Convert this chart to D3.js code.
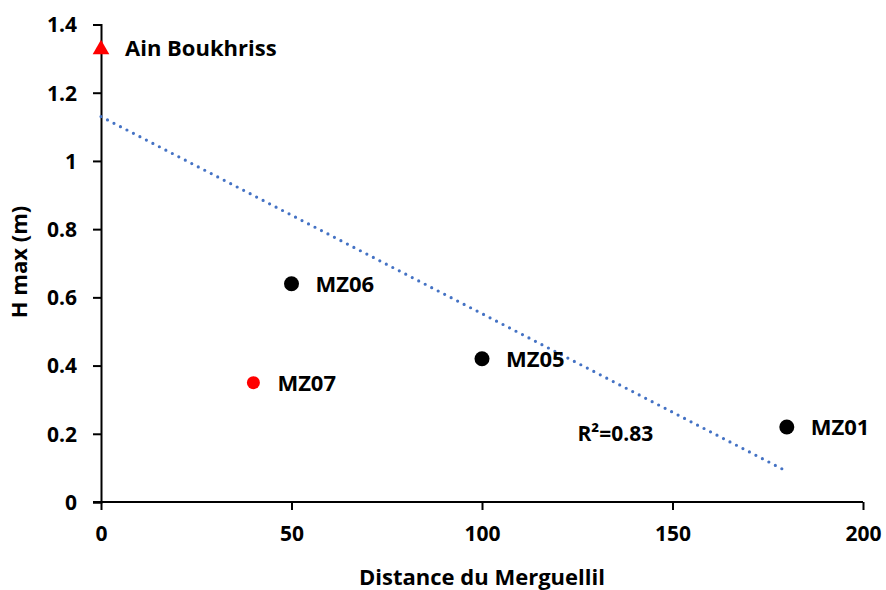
<!DOCTYPE html>
<html><head><meta charset="utf-8">
<script src="https://cdn.jsdelivr.net/npm/d3@7"></script>
<style>body{margin:0;background:#fff}svg text{font-family:"Open Sans",sans-serif;font-weight:bold;fill:#000}</style>
</head><body>
<svg id="c" width="886" height="590"></svg>
<script>
const names = ["Ain Boukhriss","MZ07","MZ06","MZ05","MZ01"];
const distances = [0,40,50,100,180];
const hmax = [1.33,0.35,0.64,0.42,0.22];
const colors = ["red","red","black","black","black"];
const shapes = ["triangle","small","circle","circle","circle"];
const xTicks = [0,50,100,150,200];
const yTicks = [0,0.2,0.4,0.6,0.8,1,1.2,1.4];
const trendX = [0,180];
const trendY = [1.13,0.09];
const r2Label = "R²=0.83";
const r2Pos = [135,0.2];

const svg = d3.select("#c");
const x = d3.scaleLinear().domain([0,200]).range([101,863]);
const y = d3.scaleLinear().domain([0,1.4]).range([502,24.5]);

const xa = svg.append("g").attr("transform","translate(0,502)")
  .call(d3.axisBottom(x).tickValues(xTicks).tickFormat(d3.format("d")).tickSizeOuter(0).tickSize(8).tickPadding(11));
const ya = svg.append("g").attr("transform","translate(101,0)")
  .call(d3.axisLeft(y).tickValues(yTicks).tickFormat(d=>String(d)).tickSizeOuter(0).tickSize(8).tickPadding(16));
[xa,ya].forEach(a=>{a.select(".domain").attr("stroke","#000").attr("stroke-width",2);
  a.selectAll(".tick line").attr("stroke","#000").attr("stroke-width",2);
  a.selectAll("text").style("font-size","21px");});
xa.selectAll("text").attr("dy","0.95em");
ya.selectAll("text").attr("dy","0.35em");
xa.select(".domain").attr("d",`M${x(0)-8},0H${x(200)}`);

svg.append("path")
  .attr("d", d3.line()(trendX.map((v,i)=>[x(v),y(trendY[i])])))
  .attr("stroke","#4472C4").attr("stroke-width",3.2).attr("fill","none")
  .attr("stroke-linecap","round").attr("stroke-dasharray","0 7.3");

distances.forEach((d,i)=>{
  const px=x(d), py=y(hmax[i]);
  if(shapes[i]==="triangle"){
    svg.append("path").attr("d",d3.symbol(d3.symbolTriangle,120)()).attr("transform",`translate(${px},${py+1})`).attr("fill",colors[i]);
  } else {
    svg.append("circle").attr("cx",px).attr("cy",py).attr("r",shapes[i]==="small"?6.5:7.5).attr("fill",colors[i]);
  }
  svg.append("text").attr("x",px+24).attr("y",py).attr("dy","0.36em").style("font-size","22px").text(names[i]);
});

svg.append("text").attr("x",x(r2Pos[0])).attr("y",y(r2Pos[1])).attr("dy","0.36em").attr("text-anchor","middle").style("font-size","21px").text(r2Label);

svg.append("text").attr("x",482).attr("y",577).attr("dy","0.35em").attr("text-anchor","middle").style("font-size","22px").text("Distance du Merguellil");
svg.append("text").attr("transform","translate(19,262) rotate(-90)").attr("dy","0.35em").attr("text-anchor","middle").style("font-size","22px").text("H max (m)");
</script>
</body></html>
